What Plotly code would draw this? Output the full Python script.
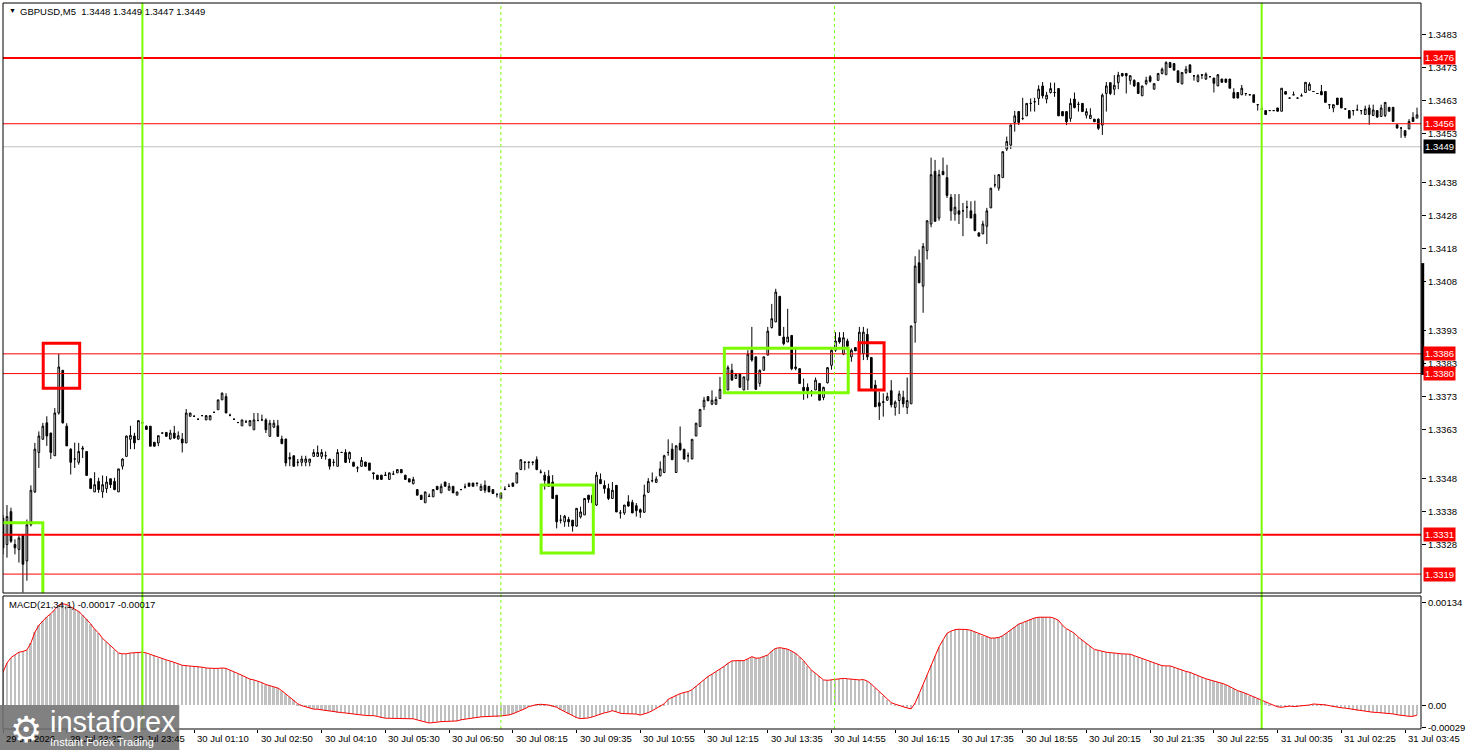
import plotly.graph_objects as go

# GBPUSD M5 candles, prices stored as pips above 1.3300
base = 1.33

open_pips = [
    36, 28, 38, 28, 26.5, 31, 23, 34, 44, 56,
    60, 65, 61.9, 55, 68, 81, 64, 57, 54, 53,
    57, 56.3, 48, 44, 47.2, 44, 45, 48, 47.2, 44,
    51.8, 54.8, 60, 61, 59.9, 65, 64, 64, 59.1, 58.9,
    61.9, 62.1, 60.1, 61.9, 60.1, 60.1, 58.9, 67, 67, 66.1,
    67.2, 65.9, 65.9, 68.2, 69, 72, 73, 67.3, 66.1, 65.1,
    64.1, 65.3, 64.1, 62.9, 65.7, 65.9, 65.9, 60.9, 63.7, 64.1,
    60.1, 60.1, 54.5, 55, 53, 53, 53, 53, 54.8, 54.8,
    54.8, 55, 54, 53, 51.8, 56, 56, 54, 53, 51.3,
    51.8, 53.1, 52.8, 49.8, 49.1, 49.1, 49, 47.8, 49.4, 49.8,
    50.8, 49.1, 48, 46.5, 44.7, 43, 40.7, 42.6, 42.5, 45.7,
    43.7, 47, 44.5, 45.7, 43, 44.7, 45.5, 46.7, 46.7, 46.7,
    44.5, 46, 45.7, 44.7, 43.2, 42, 44.7, 45.7, 46.7, 46.7,
    50.8, 53.1, 53.1, 53.1, 53.8, 50, 49.1, 48.8, 47, 43,
    35.4, 34.9, 35.6, 35.4, 33.6, 36.4, 37, 43, 43, 40,
    47.8, 46, 45, 42, 46, 37.6, 37.6, 41, 40.8, 39.8,
    38.6, 37.8, 43.9, 47.4, 46.9, 48.9, 49.9, 56, 57, 49.9,
    58.8, 57, 55, 54, 61, 63.9, 69.9, 73, 70.7, 70.7,
    72.4, 75.5, 75, 81, 78.5, 80, 75, 78, 87.1, 85.1,
    77, 81, 85.6, 94, 95.7, 103.5, 91.1, 89.6, 91.6, 81.5,
    81.5, 75.8, 75.8, 74.5, 75, 77, 72.7, 77.2, 82.5, 87.1,
    90.9, 85.9, 89.9, 85.1, 87.9, 85.9, 86.1, 91.9, 84.9, 76.5,
    71.1, 71.2, 71.9, 74.8, 69.7, 71.8, 72.8, 69.7, 70.8, 95.5,
    113.7, 106.6, 117.4, 125.5, 141.5, 127.3, 141.5, 139.6, 133.6, 128.5,
    129.5, 129.5, 130.6, 129.5, 128.5, 122.8, 122.5, 124.8, 130.4, 137.4,
    136.4, 139.6, 148.3, 149.5, 156.4, 159.7, 157.6, 158.4, 162.2, 162.7,
    163.7, 167.5, 163.5, 165.5, 165.5, 166.7, 159.7, 159.7, 157.6, 163.5,
    161.9, 162.2, 158.6, 157.6, 157.4, 157.4, 155.6, 165.2, 168.5, 166.5,
    168.5, 171.3, 171.3, 169.2, 169.2, 168.5, 164.5, 168.2, 170.3, 166.5,
    169.2, 171.3, 170.9, 174.6, 174.3, 172.1, 168.1, 171.6, 173.9, 170.6,
    168.9, 170.9, 169.6, 170.3, 169.9, 167.5, 169.6, 169.6, 169.6, 165.5,
    165.5, 164.8, 165.2, 164.8, 164.8, 161.8, 160.5, 160, 160, 160,
    160.8, 159.8, 165.8, 163.8, 164.8, 163.8, 164.5, 165.5, 166.2, 165.8,
    165.2, 165.8, 165.8, 161.8, 160.8, 163.8, 163.8, 160.5, 160, 160,
    160.2, 160, 158.8, 160.8, 158.5, 160, 158.2, 158.5, 161, 161,
    155.7, 154.7, 153.9, 154.4, 157.9, 157.7,
]

high_pips = [
    37, 40, 39.2, 29.6, 31, 31, 35.6, 46, 58.9, 62.4,
    65, 67, 62, 69.5, 86, 81, 64.9, 57.3, 59, 58.9,
    58, 56.3, 48, 50, 48.3, 49, 48.8, 48, 48.3, 51,
    54.2, 61.1, 64.1, 62, 65.7, 65.5, 64.2, 64, 59.1, 61.1,
    62, 62.1, 62.9, 64.1, 62.4, 61.9, 69.2, 68, 67.3, 66.3,
    67.4, 67.2, 67.2, 68.4, 72, 74.3, 74, 67.8, 66.3, 65.3,
    65.9, 65.9, 65.7, 68, 68, 67.5, 66.4, 65.9, 65.9, 65.9,
    61.1, 60.1, 56, 55, 54, 55, 55, 54, 57, 58.1,
    57, 56.3, 54, 54, 57, 56.2, 57, 56.3, 53.2, 51.8,
    54.6, 53.1, 52.8, 49.8, 49.1, 49.1, 50.1, 49.8, 50.4, 50.8,
    50.8, 49.1, 48, 48.6, 44.7, 43, 44, 43.5, 44.7, 45.7,
    46.5, 47, 46.7, 45.7, 44, 44.9, 46.5, 46.7, 46.7, 46.7,
    46.5, 47.5, 45.7, 44.7, 43.7, 43.7, 45.7, 46.5, 46.7, 49.8,
    53.8, 53.1, 53.1, 53.1, 54.8, 50.8, 50.1, 50.6, 49.1, 43,
    37, 37, 36.4, 35.4, 39, 39.5, 42, 43, 43.7, 50.1,
    49.6, 47.5, 46.5, 47, 46, 38.5, 40, 43, 41.6, 40.6,
    39, 46.2, 48.2, 49.9, 48.7, 53.3, 55.3, 60, 58.8, 58.2,
    63.9, 57, 56, 60, 65, 69.1, 72.9, 73, 74.9, 73,
    79, 76, 82.5, 83, 80, 80, 79, 87.1, 94.2, 85.1,
    81.2, 85.1, 94.2, 101.2, 105.8, 103.5, 94.2, 99.7, 91.6, 87.6,
    81.5, 78.5, 77, 75, 78.8, 77, 76, 82, 87.6, 92.6,
    92.6, 92.6, 90.6, 87.6, 88, 94.2, 94.2, 93.7, 84.9, 78,
    74.5, 74, 74.2, 78, 71.8, 74.8, 74.8, 78.8, 94.5, 115.7,
    117.7, 119.7, 126.5, 145.7, 145, 142, 145.7, 143.5, 134.6, 134.6,
    134.6, 131.9, 132.6, 132.4, 132.6, 122.8, 126.5, 130.4, 136.4, 140.5,
    140.7, 147.5, 152.1, 155.8, 159.9, 159.9, 163.9, 162.2, 163.7, 163.9,
    167.7, 168.7, 165.7, 168.5, 168.5, 166.7, 159.7, 159.7, 163.7, 165.5,
    162.7, 162.2, 160.7, 160.7, 157.4, 157.6, 165.2, 168.7, 168.5, 170.8,
    171.8, 171.3, 171.3, 170.8, 169.5, 168.5, 167.5, 170.3, 170.8, 168.2,
    171.3, 173.1, 175, 174.8, 174.3, 172.1, 171.6, 173.6, 174.1, 170.8,
    171.1, 171, 171.6, 170.4, 169.9, 171.1, 169.6, 169.6, 169.6, 166.8,
    165.5, 167.8, 165.2, 164.9, 164.8, 161.8, 161.8, 160, 160.1, 160.1,
    160.8, 166.8, 165.8, 163.9, 165.8, 163.9, 165.2, 168.6, 168.6, 165.9,
    165.3, 167.8, 165.8, 161.8, 161.8, 163.8, 163.8, 160.6, 160, 160,
    161.8, 160, 161.5, 161.8, 161.8, 160, 161.8, 162.5, 161, 161,
    155.7, 154.9, 153.9, 157.4, 159.5, 160.9,
]

low_pips = [
    25, 24, 28.5, 25, 22.5, 13.4, 17, 33.5, 43.7, 51.3,
    60, 58, 54, 55, 67.5, 64.8, 58, 49.3, 51.3, 52.3,
    54.3, 49, 45, 44, 43.7, 42.2, 43.7, 45.2, 44.5, 44,
    50.8, 54.8, 57, 57, 59.9, 64.5, 63, 57.9, 57.9, 57.9,
    61.8, 60.9, 59.9, 60.1, 59.9, 56, 58.9, 67, 66.8, 66,
    67.1, 65.9, 65.9, 68.1, 69, 72, 68, 67, 66, 65,
    64.1, 65.1, 64.1, 62.9, 65.7, 65.7, 61.9, 60.9, 63.4, 60.9,
    58.5, 51.8, 51.8, 51.8, 51.8, 51.8, 51.8, 51.8, 54.8, 54.8,
    54, 53.8, 50.8, 51.8, 51.8, 55.9, 52.8, 52.8, 51.8, 50,
    51.6, 51.8, 50.6, 47.8, 47.8, 47.8, 48.9, 47.8, 49.4, 49.8,
    49.8, 47.8, 47, 46.3, 43, 41.7, 40.7, 42.5, 42.5, 44.7,
    43.7, 45.7, 44.5, 43.7, 43, 44.6, 45, 45.7, 45.7, 45.7,
    44.3, 43.7, 44, 43.5, 42.3, 42, 44.7, 45.7, 45.7, 46.7,
    50.8, 50.6, 51.1, 52.1, 50.6, 49.6, 44.7, 45.5, 42, 32.9,
    34.4, 33.4, 33.4, 31.9, 33.4, 35.9, 37, 40.7, 39.7, 39.7,
    46.5, 43.5, 41.5, 42, 37.9, 35.9, 37, 39.5, 37.6, 36.5,
    36.1, 37.6, 43.7, 46.9, 46.7, 48.7, 49.7, 55, 53.8, 49.9,
    56.6, 53.8, 53, 54, 61, 63.9, 68.9, 71.7, 70.4, 70.4,
    72.4, 74.8, 75, 78, 78.5, 75.8, 75, 75, 83.6, 75,
    76, 81, 85.6, 93.7, 95.7, 91.6, 88.6, 89.6, 81, 81,
    77, 72, 72.5, 73, 75, 71.9, 71.9, 77, 81.2, 86.6,
    89.1, 85.6, 88.1, 83.6, 86.9, 85.1, 84.1, 84.1, 75, 69.9,
    65.9, 66.9, 71.7, 69.7, 67.2, 67.7, 69.7, 67.7, 70.8, 89.4,
    107.6, 98.5, 114.7, 124.5, 126.3, 126.5, 140.5, 133.4, 126.5, 126.5,
    125.5, 121.8, 127.3, 127.3, 123.3, 121.8, 122.5, 119.4, 130.4, 136.6,
    135.6, 139.6, 147.7, 148.3, 153.6, 155.6, 157.1, 158.4, 159.7, 159.7,
    161.7, 163.7, 162.2, 165.2, 164.2, 158.4, 158.4, 155.6, 156.6, 160.7,
    159.7, 159.7, 157.6, 157.4, 156.6, 154.1, 152.6, 159.7, 164.7, 164.7,
    166.5, 170.3, 165.2, 167.9, 167.2, 165.2, 164.5, 167.7, 168.5, 166.5,
    169.2, 171, 170.9, 173.1, 172.3, 168.6, 168.1, 171.1, 171.6, 169.1,
    168.6, 169.6, 169.3, 170.2, 165.5, 167.5, 168.6, 168.6, 166.8, 163.8,
    163.8, 164.8, 164.5, 164.7, 162.5, 160, 160.4, 158.8, 159.9, 159.9,
    159.8, 159.8, 165, 163.7, 164.8, 163.7, 164.5, 165.5, 166.2, 165.7,
    165.1, 164.8, 162.5, 160.5, 159.5, 161.8, 160.8, 160.4, 157.7, 158.5,
    160.2, 158.8, 158.8, 155.7, 158.5, 158, 158.2, 158, 159.8, 156.7,
    154.5, 151.7, 151.7, 154.4, 156.7, 157.7,
]

close_pips = [
    27, 36.5, 29, 27, 30, 22, 34, 44.5, 57, 61,
    64, 61, 56, 68, 82, 65, 58, 53, 54, 56.3,
    57.3, 49, 45, 46.2, 44.7, 46.2, 47, 46.2, 44.7, 51,
    54, 61, 61.2, 58.9, 65.7, 65, 63, 57.9, 57.9, 61.1,
    61.9, 60.9, 61.9, 60.4, 61.1, 58.9, 68, 68, 67, 66.1,
    67.2, 67.2, 67.2, 68.2, 72, 74, 68, 67.3, 66.1, 65.1,
    65.9, 65.3, 65.7, 65.9, 65.7, 65.9, 62.9, 64.9, 64.9, 60.9,
    58.7, 52.8, 54, 51.8, 53, 54, 54, 54, 56, 56,
    56, 55, 51.8, 53, 56, 56, 53, 56, 51.8, 51.3,
    53.6, 51.8, 50.6, 49.6, 47.8, 47.8, 49.1, 49.8, 49.4, 50.8,
    49.8, 47.8, 47, 47.8, 43, 41.7, 44, 42.7, 44.7, 44.7,
    45.7, 45.7, 45.7, 43.7, 44, 44.7, 45.5, 45.7, 45.7, 46.6,
    45.7, 44.5, 44, 43.5, 43.2, 43.7, 44.8, 45.7, 45.7, 49.8,
    53.8, 53, 53, 53, 50.8, 50, 47.5, 45.7, 42, 34.9,
    35.4, 36.6, 34.9, 33.6, 39, 37.9, 42, 41.7, 40.7, 49.1,
    46.5, 45, 42, 44.5, 37.9, 37.6, 40, 39.7, 37.6, 38.3,
    37.8, 43.1, 47.2, 47.4, 47.9, 51, 55, 56, 53.8, 58,
    56.8, 54, 55, 60, 64.9, 69.1, 71.9, 71.7, 71.9, 72.1,
    75.2, 75.5, 81.8, 78, 79.7, 75.8, 79, 85.9, 84.1, 75.2,
    81, 85.1, 92.9, 96.7, 104.8, 91.6, 89.1, 91.1, 81.5, 82,
    77, 74.8, 74.8, 74.5, 78, 71.9, 75.8, 81.8, 87.1, 89.9,
    89.6, 90.9, 88.3, 87.1, 86.9, 92.6, 92.6, 85.1, 75.5, 69.9,
    70.1, 71.4, 73, 70.5, 71.3, 73.8, 70.8, 71.8, 94.5, 112.7,
    107.6, 118.7, 126.5, 140.5, 126.3, 140.5, 140.5, 134.2, 129.5, 130.6,
    128.5, 129.5, 130.6, 127.3, 123.5, 121.8, 125.5, 129.5, 136.4, 137.4,
    140.5, 147.5, 150.6, 155.6, 158.4, 156.4, 157.6, 162.2, 162.2, 162.7,
    166.5, 164.5, 164.7, 166.7, 165.5, 158.4, 158.4, 156.6, 162.2, 160.9,
    161.9, 159.7, 159.7, 158.6, 156.6, 154.6, 164.7, 167.5, 165.2, 167.7,
    170.8, 170.6, 170.6, 170.6, 167.5, 165.2, 167.5, 169.2, 168.9, 168.2,
    171.3, 172.6, 174.6, 173.1, 172.3, 168.6, 171.6, 172.6, 171.6, 170.6,
    170.6, 170.8, 171.1, 170.3, 168.3, 170.9, 168.6, 168.6, 166.8, 163.8,
    163.8, 166.8, 165.2, 164.8, 162.5, 161.8, 160.5, 158.8, 160, 160,
    159.8, 166.8, 165, 163.8, 164.8, 163.8, 164.5, 168.6, 168, 165.8,
    165.2, 164.8, 162.5, 161.8, 161.8, 161.8, 160.8, 160.5, 157.7, 160,
    160.2, 160, 160.5, 158.8, 160.2, 158, 160.8, 162.5, 159.8, 156.7,
    154.7, 154.7, 152.4, 156.7, 156.7, 158.7,
]

# MACD(21,34,1) main line, in units of 0.00001
macd_vals = [
    43, 55, 62, 66, 69, 70, 72, 81, 95, 104,
    110, 115, 119, 124, 130, 132, 131, 128, 125, 122,
    117, 112, 106, 99, 94, 87, 82, 78, 72, 68,
    67, 67, 68, 68.5, 69, 69, 68, 66, 64, 62,
    61, 59, 57.5, 56, 54, 52, 51.5, 51, 51, 50.5,
    49.5, 48.5, 48, 48, 48, 48.5, 48, 46, 43, 41,
    39, 36.5, 34, 33, 31.7, 29.5, 27, 25.3, 24, 22.5,
    19, 15, 10.5, 6.5, 2, -0.5, -2, -3.5, -5, -5.2,
    -6, -6.8, -7.8, -8.8, -9.5, -9.5, -10, -10.7, -11.3, -12.5,
    -13, -13.2, -13.4, -13.4, -14.5, -16, -16.8, -16.9, -16.9, -16.9,
    -16.9, -16.9, -17, -17.5, -19, -20.5, -22, -23, -22.5, -21.5,
    -21.2, -21, -20.8, -20.6, -20.3, -18.8, -18, -17, -16, -15.6,
    -15, -14.7, -14.6, -14.3, -14.6, -13.8, -13.2, -12.6, -11, -9,
    -6.5, -4.5, -1.7, -0.3, 0.9, 1.3, 1, 0.4, -1, -2.5,
    -5.5, -8, -11, -13, -16, -17.3, -17.3, -16.4, -15, -13,
    -11, -9.8, -8.7, -7, -8.5, -10.4, -10.8, -10.8, -10.8, -11.4,
    -12.7, -11.5, -9.5, -7, -4, -2, 2, 7.8, 10.5, 13.5,
    15.2, 16.7, 17.8, 20.5, 25, 29, 33.5, 37.5, 40.5, 43.5,
    46.8, 50.5, 54.5, 57.7, 58, 58.1, 58.1, 60.5, 63.3, 61.3,
    61.5, 63.5, 65.5, 70.5, 74, 75, 74.3, 73, 70.5, 67.5,
    63, 58, 51.5, 45.5, 41.5, 37.5, 33, 32.5, 33, 33.3,
    34, 35, 34.5, 33.8, 33.3, 33, 33.5, 31.5, 27.5, 22.5,
    17.5, 12.5, 7.5, 3.5, 1.5, -0.3, -1.5, -3.5, -4.5, 3,
    15, 27, 39.5, 52, 64, 76, 85, 93.6, 96.5, 98.3,
    98.9, 98.9, 98.5, 97.5, 95.5, 93, 90.5, 88.5, 87.3, 87.5,
    88.2, 90.5, 94.5, 98.5, 102, 105.5, 107.5, 109.5, 112.5, 113.5,
    114.5, 114.5, 114.5, 114.5, 113, 110.5, 104, 99.5, 96.8, 93.5,
    88.5, 84.5, 80.5, 76.5, 72.5, 71.5, 70, 69, 68.5, 67.8,
    66.8, 66.8, 66.7, 66.4, 64.5, 62.7, 60.2, 58.2, 57, 55,
    53.5, 51.5, 51.2, 51.2, 49.5, 47.5, 46, 44, 42.8, 40.5,
    37.8, 36.5, 34.5, 33.2, 31.7, 30.1, 28.6, 26.8, 24, 21.5,
    19, 17.5, 15.5, 12.7, 11, 8.7, 6.5, 4.5, 2.2, 0,
    -2, -2.6, -1.6, -1, -1.7, -1.3, -0.7, -0.2, 0.4, 1.7,
    1.5, 1.1, 0.6, -0.5, -1.7, -2.7, -3.2, -3.7, -4.5, -6.1,
    -6.8, -7.4, -8, -8.6, -9.1, -9.3, -9.7, -10.2, -10.6, -11.2,
    -12.3, -13.2, -14, -14.3, -14.3, -12.8,
]

# time axis labels (every 16 bars)
label_bars = list(range(0, 353, 16))
label_text = [
    "29 Jul 2026", "29 Jul 22:25", "29 Jul 23:45", "30 Jul 01:10", "30 Jul 02:50",
    "30 Jul 04:10", "30 Jul 05:30", "30 Jul 06:50", "30 Jul 08:15", "30 Jul 09:35",
    "30 Jul 10:55", "30 Jul 12:15", "30 Jul 13:35", "30 Jul 14:55", "30 Jul 16:15",
    "30 Jul 17:35", "30 Jul 18:55", "30 Jul 20:15", "30 Jul 21:35", "30 Jul 22:55",
    "31 Jul 00:35", "31 Jul 02:25", "31 Jul 03:45",
]

price_ticks = [1.3483, 1.3473, 1.3463, 1.3453, 1.3438, 1.3428, 1.3418, 1.3408,
               1.3393, 1.3383, 1.3373, 1.3363, 1.3348, 1.3338, 1.3328]

# horizontal levels: (price, line width)
red_levels = [(1.3476, 2), (1.3456, 1), (1.3386, 1), (1.3380, 1), (1.3331, 2), (1.3319, 1)]
bid_price = 1.3449

green_vlines = [35, 316]
dashed_vlines = [125, 208.75]

# signal boxes: (bar from, bar to, price low, price high)
green_boxes = [(-0.5, 10, 1.3300, 1.33346), (135.1, 148.2, 1.33254, 1.33461),
               (181.1, 212.2, 1.33742, 1.33877)]
red_boxes = [(10.1, 19.25, 1.33755, 1.33892), (214.9, 221.2, 1.3375, 1.33894)]

bars = list(range(len(close_pips)))


def to_price(pips):
    return [round(base + p / 10000, 5) for p in pips]


MAIN_BOTTOM = 0.1873
MACD_TOP = 0.1832
FONT = "Liberation Sans, Arial, sans-serif"
GREEN = "#7CFC00"

fig = go.Figure()
fig.add_trace(go.Candlestick(
    x=bars, open=to_price(open_pips), high=to_price(high_pips),
    low=to_price(low_pips), close=to_price(close_pips),
    increasing=dict(fillcolor="white", line=dict(color="black", width=1)),
    decreasing=dict(fillcolor="black", line=dict(color="black", width=1)),
    whiskerwidth=0, showlegend=False, hoverinfo="skip",
    xaxis="x", yaxis="y"))

fig.add_trace(go.Bar(
    x=bars, y=[v * 1e-5 for v in macd_vals], width=0.45,
    marker=dict(color="#C0C0C0", line=dict(width=0)),
    showlegend=False, hoverinfo="skip", xaxis="x", yaxis="y2"))
fig.add_trace(go.Scatter(
    x=bars, y=[v * 1e-5 for v in macd_vals], mode="lines",
    line=dict(color="red", width=1), showlegend=False, hoverinfo="skip",
    xaxis="x", yaxis="y2"))

shapes = []
# horizontal level lines
for p, w in red_levels:
    shapes.append(dict(type="line", xref="paper", x0=0, x1=1, yref="y", y0=p, y1=p,
                       line=dict(color="red", width=w)))
shapes.append(dict(type="line", xref="paper", x0=0, x1=1, yref="y", y0=bid_price, y1=bid_price,
                   line=dict(color="#C0C0C0", width=1)))
# vertical lines across both panels
for v in green_vlines:
    shapes.append(dict(type="line", xref="x", x0=v, x1=v, yref="paper", y0=0, y1=1,
                       line=dict(color=GREEN, width=2)))
for v in dashed_vlines:
    shapes.append(dict(type="line", xref="x", x0=v, x1=v, yref="paper", y0=0, y1=1,
                       line=dict(color=GREEN, width=1, dash="3px,3px")))
# signal rectangles
for x0, x1, y0, y1 in green_boxes:
    shapes.append(dict(type="rect", xref="x", yref="y", x0=x0, x1=x1, y0=y0, y1=y1,
                       line=dict(color=GREEN, width=3)))
for x0, x1, y0, y1 in red_boxes:
    shapes.append(dict(type="rect", xref="x", yref="y", x0=x0, x1=x1, y0=y0, y1=y1,
                       line=dict(color="red", width=3)))
# panel frames
shapes.append(dict(type="rect", xref="paper", yref="paper", x0=0, x1=1, y0=MAIN_BOTTOM, y1=1,
                   line=dict(color="black", width=1)))
shapes.append(dict(type="rect", xref="paper", yref="paper", x0=0, x1=1, y0=0, y1=MACD_TOP,
                   line=dict(color="black", width=1)))
# black marker on the right price scale
shapes.append(dict(type="line", xref="paper", x0=1.0012, x1=1.0012, yref="y", y0=1.33796, y1=1.34136,
                   line=dict(color="black", width=3)))
# watermark box
shapes.append(dict(type="rect", xref="paper", yref="paper", x0=-0.003, x1=0.1243, y0=-0.03, y1=0.0331,
                   fillcolor="rgba(112,112,112,0.88)", line=dict(width=0)))

annotations = [
    dict(xref="paper", yref="paper", x=0.003, y=0.997, xanchor="left", yanchor="top",
         text="\u25BC", showarrow=False, font=dict(family=FONT, size=7, color="black")),
    dict(xref="paper", yref="paper", x=0.0105, y=0.998, xanchor="left", yanchor="top",
         text="GBPUSD,M5  1.3448 1.3449 1.3447 1.3449", showarrow=False,
         font=dict(family=FONT, size=9.5, color="black")),
    dict(xref="paper", yref="paper", x=0.003, y=MACD_TOP - 0.002, xanchor="left", yanchor="top",
         text="MACD(21,34,1) -0.00017 -0.00017", showarrow=False,
         font=dict(family=FONT, size=9.5, color="black")),
]
for b, t in zip(label_bars, label_text):
    annotations.append(dict(xref="x", yref="paper", x=b, y=0, xanchor="left", yanchor="top",
                            xshift=1, yshift=-2, text=t, showarrow=False,
                            font=dict(family=FONT, size=9.5, color="black")))
for p, w in red_levels:
    annotations.append(dict(xref="paper", yref="y", x=1, y=p, xanchor="left", yanchor="middle",
                            xshift=2, text=f"{p:.4f}", showarrow=False, bgcolor="red", borderpad=1,
                            font=dict(family=FONT, size=9.5, color="white")))
annotations.append(dict(xref="paper", yref="y", x=1, y=bid_price, xanchor="left", yanchor="middle",
                        xshift=2, text=f"{bid_price:.4f}", showarrow=False, bgcolor="black", borderpad=1,
                        font=dict(family=FONT, size=9.5, color="white")))
# watermark text
annotations += [
    dict(xref="paper", yref="paper", x=0.0165, y=0.0, xanchor="center", yanchor="middle",
         text="\u2699", showarrow=False, font=dict(family="DejaVu Sans", size=36, color="white")),
    dict(xref="paper", yref="paper", x=0.0316, y=0.0096, xanchor="left", yanchor="middle",
         text="instaforex", showarrow=False, font=dict(family=FONT, size=29, color="white")),
    dict(xref="paper", yref="paper", x=0.0316, y=-0.0175, xanchor="left", yanchor="middle",
         text="Instant Forex Trading", showarrow=False, font=dict(family=FONT, size=11, color="white")),
]

fig.update_layout(
    width=1468, height=750, autosize=False,
    margin=dict(l=3, r=41, t=3, b=21, pad=0),
    paper_bgcolor="white", plot_bgcolor="white",
    boxgap=0.4,
    xaxis=dict(domain=[0, 1], anchor="y2", range=[0, 356], showgrid=False, zeroline=False,
               showline=False, rangeslider=dict(visible=False),
               tickmode="array", tickvals=label_bars, showticklabels=False,
               ticks="outside", ticklen=3, tickcolor="black"),
    yaxis=dict(domain=[MAIN_BOTTOM, 1], anchor="x", side="right",
               range=[1.331324, 1.349273], showgrid=False, zeroline=False, showline=False,
               tickmode="array", tickvals=price_ticks, ticktext=[f"{t:.4f}" for t in price_ticks],
               ticks="outside", ticklen=4, tickcolor="black",
               tickfont=dict(family=FONT, size=9.5, color="black")),
    yaxis2=dict(domain=[0, MACD_TOP], anchor="x", side="right",
                range=[-0.000308, 0.001421], showgrid=False, zeroline=False, showline=False,
                tickmode="array", tickvals=[0.00134, 0, -0.00029],
                ticktext=["0.00134", "0.00", "-0.00029"],
                ticks="outside", ticklen=4, tickcolor="black",
                tickfont=dict(family=FONT, size=9.5, color="black")),
    shapes=shapes,
    annotations=annotations,
    bargap=0,
)

# the page body has a default 8px margin; remove it so the figure fills the window
fig.write_html("out.html", config={"displayModeBar": False},
               post_script="document.body.style.margin='0px';")
